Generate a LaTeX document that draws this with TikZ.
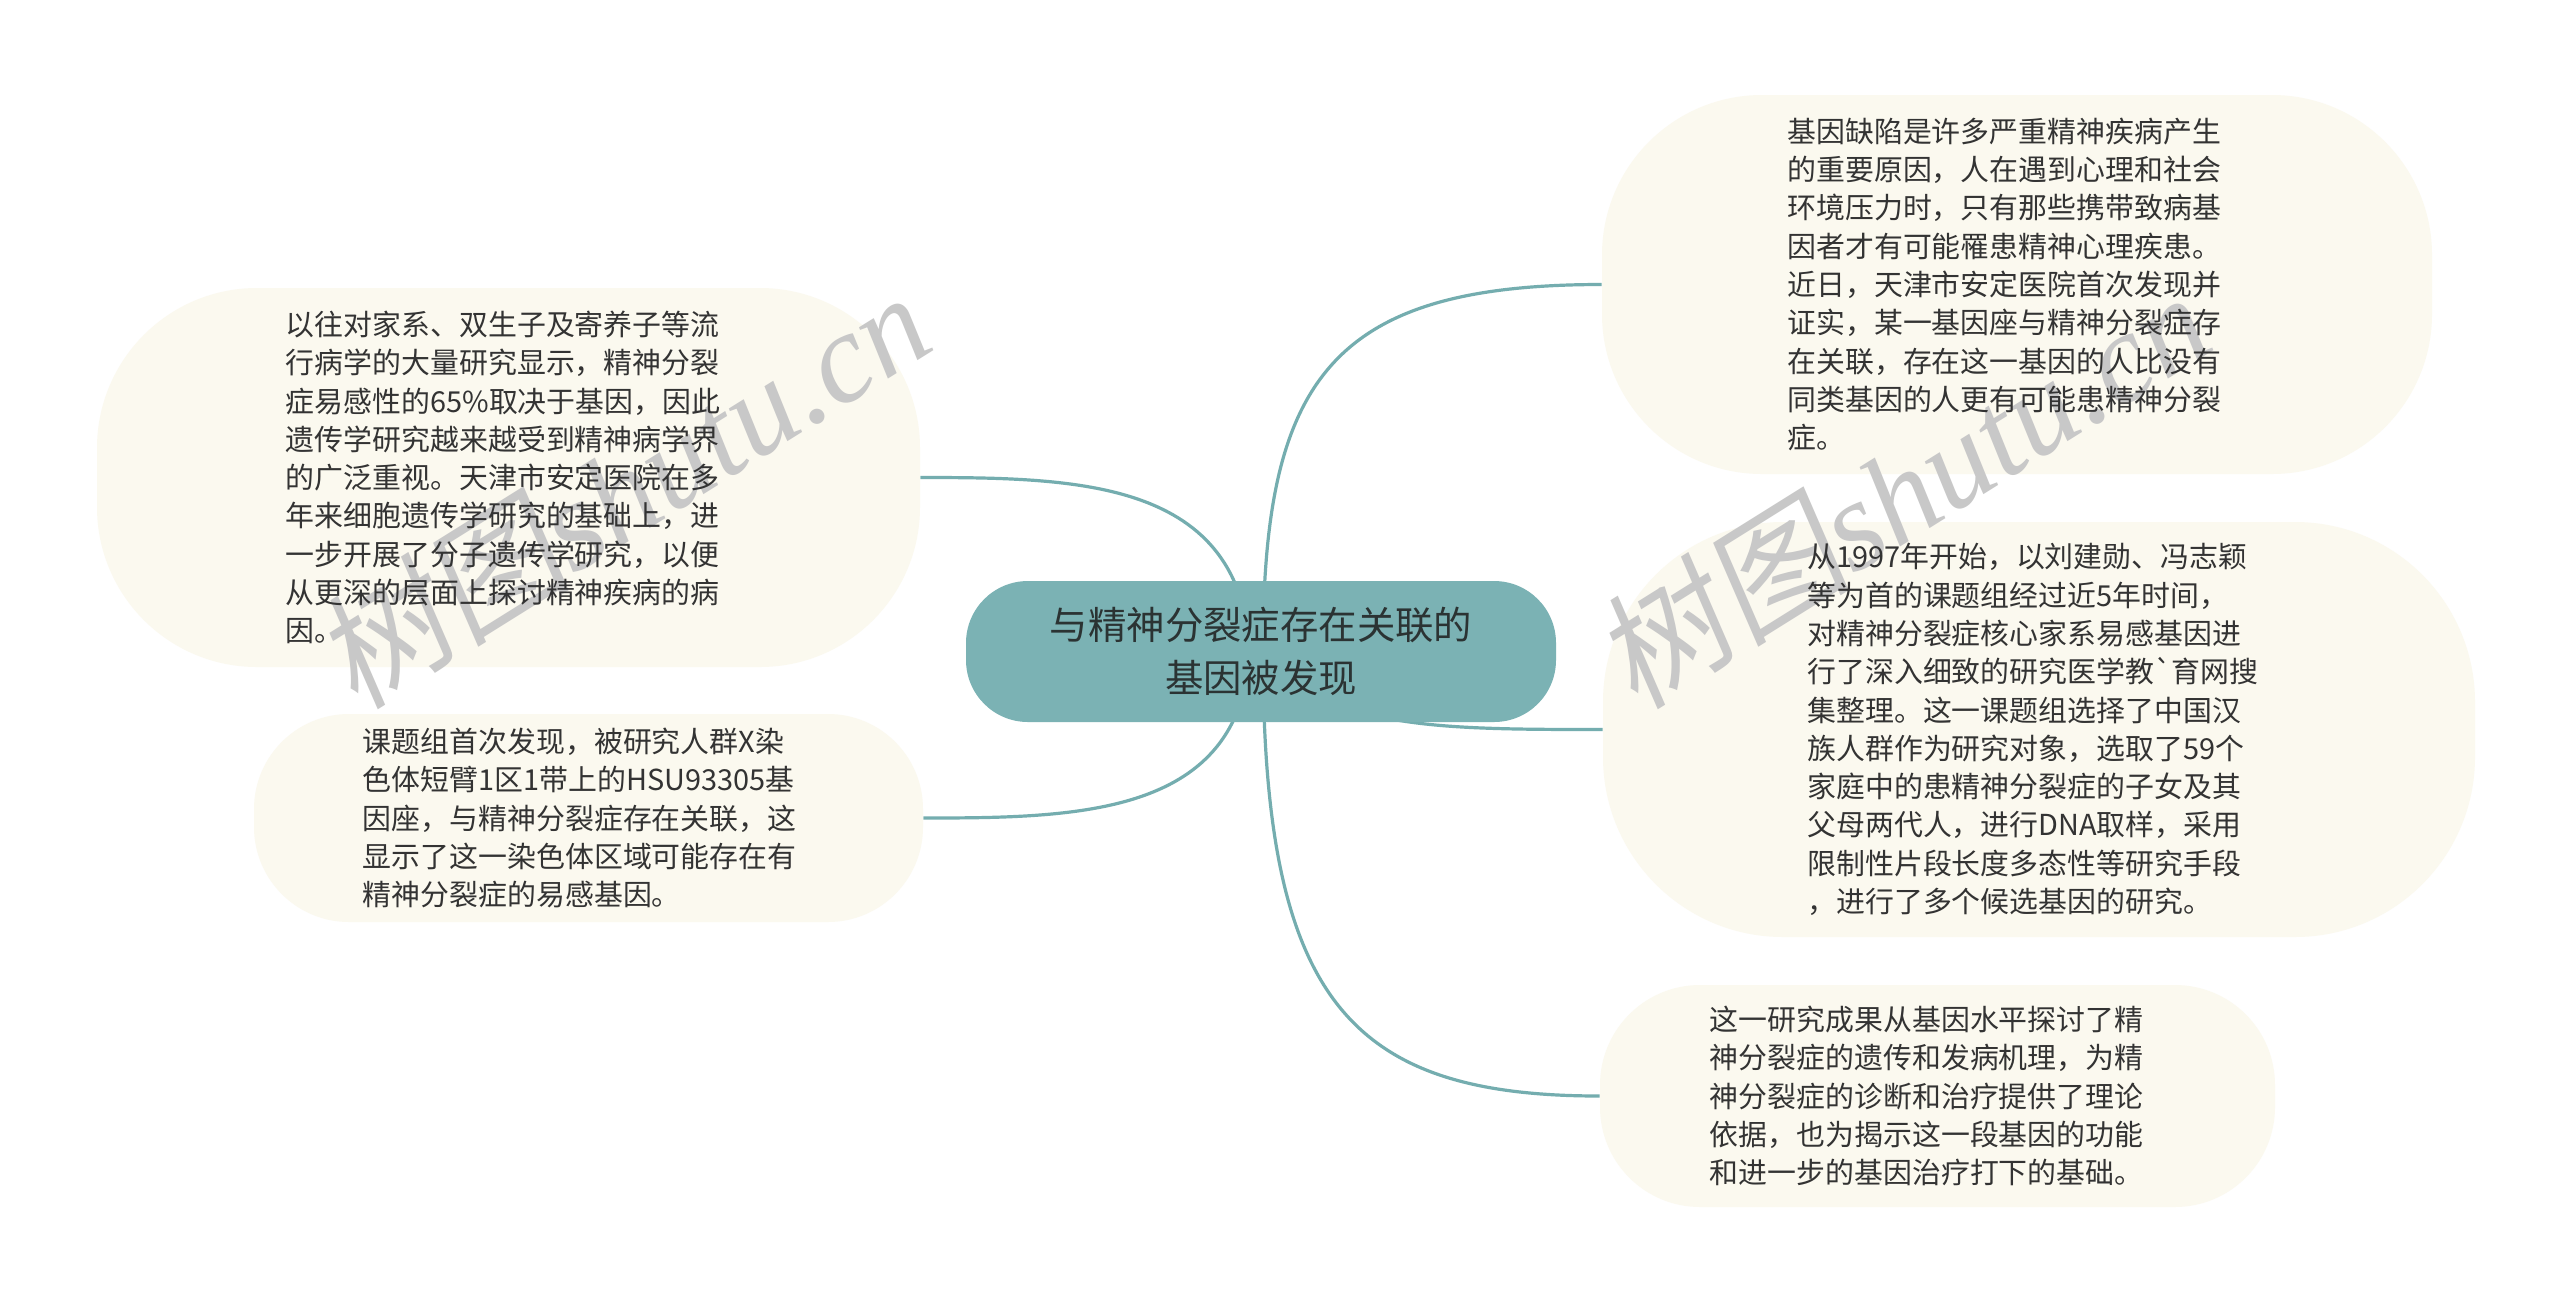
\documentclass[tikz,border=0pt]{standalone}
\usepackage{fontspec}
\newfontfamily\cjk{Noto Sans CJK SC}
\newfontfamily\wmcjk[FakeSlant=0.15]{Noto Sans CJK SC}
\newfontfamily\wmlat{Liberation Serif}
\definecolor{bubblefill}{HTML}{FBF9EF}
\definecolor{mainfill}{HTML}{7BB2B4}
\definecolor{linecol}{HTML}{74ADAF}
\definecolor{textcol}{HTML}{333333}
\definecolor{maintext}{HTML}{2B3333}
\definecolor{wmcol}{HTML}{C8C8C8}
\pgfdeclarelayer{bg}
\pgfdeclarelayer{lines}
\pgfsetlayers{bg,lines,main}
\begin{document}
\begin{tikzpicture}[x=0.5pt,y=-0.5pt,
  bubble/.style={fill=bubblefill, draw=none, rounded corners=#1, inner sep=0pt},
  mainnode/.style={fill=mainfill, draw=none, rounded corners=31pt, inner sep=0pt,
    minimum width=295pt, minimum height=70.5pt, align=center, text=maintext,
    font=\cjk\fontsize{19.2pt}{26.5pt}\selectfont},
  txt/.style={anchor=west, inner sep=0pt, align=left, text=textcol,
    font=\cjk\fontsize{14.45pt}{19.15pt}\selectfont},
  conn/.style={draw=linecol, line width=1.6pt},
  wm/.style={text=wmcol, inner sep=0pt, rotate=32, font=\fontsize{64pt}{64pt}\selectfont}]
\begin{pgfonlayer}{bg}
\fill[white] (0,0) rectangle (2560,1303);
\end{pgfonlayer}
\useasboundingbox (0,0) rectangle (2560,1303);

% central node
\node[mainnode] (c) at (1261,651.5) {与精神分裂症存在关联的\\基因被发现};

% bubbles
\node[bubble=80pt, minimum width=415pt, minimum height=189.5pt] (tr) at (2017,284.5) {};
\node[bubble=90pt, minimum width=436pt, minimum height=207.5pt] (rm) at (2039,729.5) {};
\node[bubble=50pt, minimum width=337.5pt, minimum height=111pt] (br) at (1937.5,1096) {};
\node[bubble=80pt, minimum width=411.5pt, minimum height=189.5pt] (lt) at (508.5,477.5) {};
\node[bubble=47.5pt, minimum width=334.5pt, minimum height=104pt] (lb) at (588.5,818) {};

% connectors
\begin{pgfonlayer}{lines}
\draw[conn] ([xshift=1pt]c.center) .. controls +(0,-271) and +(-272,0) .. (tr.west);
\draw[conn] ([xshift=1pt]c.center) .. controls +(67,77) and +(-173,0) .. (rm.west);
\draw[conn] ([xshift=1pt]c.center) .. controls +(0,349) and +(-250,0) .. (br.west);
\draw[conn] ([xshift=-5.5pt]c.center) .. controls +(-10,-171) and +(160,0) .. (lt.east);
\draw[conn] ([xshift=-5.5pt]c.center) .. controls +(-10,164) and +(157,0) .. (lb.east);
\end{pgfonlayer}

% watermarks
\node[wm] (wm1) at (622,488) {{\wmcjk 树图}{\wmlat\itshape shutu.cn}};
\node[wm] (wm2) at (1902,488) {{\wmcjk 树图}{\wmlat\itshape shutu.cn}};

% texts
\node[txt] (trt) at (1787,284.5) {基因缺陷是许多严重精神疾病产生\\%
的重要原因，人在遇到心理和社会\\%
环境压力时，只有那些携带致病基\\%
因者才有可能罹患精神心理疾患。\\%
近日，天津市安定医院首次发现并\\%
证实，某一基因座与精神分裂症存\\%
在关联，存在这一基因的人比没有\\%
同类基因的人更有可能患精神分裂\\%
症。};
\node[txt] (rmt) at (1807,729.5) {从1997年开始，以刘建勋、冯志颖\\%
等为首的课题组经过近5年时间，\\%
对精神分裂症核心家系易感基因进\\%
行了深入细致的研究医学教`育网搜\\%
集整理。这一课题组选择了中国汉\\%
族人群作为研究对象，选取了59个\\%
家庭中的患精神分裂症的子女及其\\%
父母两代人，进行DNA取样，采用\\%
限制性片段长度多态性等研究手段\\%
，进行了多个候选基因的研究。};
\node[txt] (brt) at (1709.5,1096) {这一研究成果从基因水平探讨了精\\%
神分裂症的遗传和发病机理，为精\\%
神分裂症的诊断和治疗提供了理论\\%
依据，也为揭示这一段基因的功能\\%
和进一步的基因治疗打下的基础。};
\node[txt] (ltt) at (285.5,477.5) {以往对家系、双生子及寄养子等流\\%
行病学的大量研究显示，精神分裂\\%
症易感性的65\%取决于基因，因此\\%
遗传学研究越来越受到精神病学界\\%
的广泛重视。天津市安定医院在多\\%
年来细胞遗传学研究的基础上，进\\%
一步开展了分子遗传学研究，以便\\%
从更深的层面上探讨精神疾病的病\\%
因。};
\node[txt] (lbt) at (362.5,818) {课题组首次发现，被研究人群X染\\%
色体短臂1区1带上的HSU93305基\\%
因座，与精神分裂症存在关联，这\\%
显示了这一染色体区域可能存在有\\%
精神分裂症的易感基因。};
\end{tikzpicture}
\end{document}
